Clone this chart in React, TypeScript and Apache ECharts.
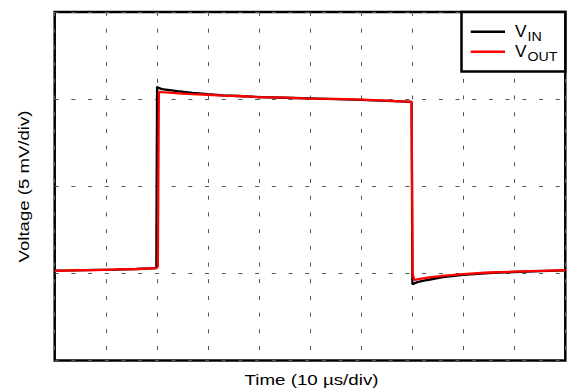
import React, { useEffect, useRef } from "react";
import * as echarts from "echarts";

// time in µs (10 µs/div), voltage in mV (5 mV/div)
const timeVin = [0, 4, 8, 12, 16, 19.9, 20.05, 20.2, 21, 24, 27, 30, 33, 36, 40, 45, 50, 55, 60, 65, 69.9, 70.05, 70.3, 71, 73, 76, 80, 85, 90, 95, 100];
const vin = [5.16, 5.17, 5.2, 5.22, 5.25, 5.3, 15.72, 15.66, 15.57, 15.46, 15.36, 15.28, 15.22, 15.18, 15.12, 15.08, 15.04, 15.0, 14.96, 14.9, 14.84, 4.38, 4.41, 4.5, 4.62, 4.78, 4.92, 5.02, 5.08, 5.13, 5.17];
const timeVout = [0, 4, 8, 12, 16, 19.9, 20.2, 20.4, 21, 22.5, 25, 27, 30, 33, 36, 40, 45, 50, 55, 60, 65, 69.9, 70.1, 70.4, 71, 73, 76, 80, 85, 90, 95, 100];
const vout = [5.14, 5.18, 5.19, 5.23, 5.25, 5.3, 5.4, 15.42, 15.4, 15.37, 15.32, 15.29, 15.25, 15.2, 15.18, 15.12, 15.09, 15.03, 15.01, 14.97, 14.91, 14.84, 5.0, 4.62, 4.66, 4.76, 4.86, 4.96, 5.05, 5.1, 5.14, 5.18];

const seriesNames = ["VIN", "VOUT"];
const legendMain = ["V", "V"];
const legendSub = ["IN", "OUT"];
const colors = ["#000000", "#ff0000"];
const xTitle = "Time (10 µs/div)";
const yTitle = "Voltage (5 mV/div)";

const FONT = "'Liberation Sans', Arial, Helvetica, sans-serif";

export default function App() {
  const ref = useRef<HTMLDivElement>(null);
  useEffect(() => {
    if (!ref.current) return;
    const chart = echarts.init(ref.current, undefined, { renderer: "svg" });
    const gridLine = { show: true, lineStyle: { color: "#555", width: 1, type: [4, 12.7] as any } };
    const legendItems: any[] = [
      {
        type: "rect",
        shape: { x: 461.5, y: 12, width: 103.8, height: 59.5 },
        style: { fill: "#fff", stroke: "#000", lineWidth: 2.5 },
        z: 10,
      },
    ];
    seriesNames.forEach((_, i) => {
      const ly = 31.7 + i * 20;
      legendItems.push({
        type: "line",
        shape: { x1: 470.7, y1: ly, x2: 505, y2: ly },
        style: { stroke: colors[i], lineWidth: 2.5 },
        z: 11,
      });
      legendItems.push({
        type: "text",
        x: 515,
        y: 32 + i * 20,
        scaleX: 1.08,
        style: { text: legendMain[i], font: `16px ${FONT}`, fill: "#000", align: "left", verticalAlign: "middle" },
        z: 11,
      });
      legendItems.push({
        type: "text",
        x: 527.5,
        y: 36.5 + i * 20,
        scaleX: 1.05,
        style: { text: legendSub[i], font: `13.5px ${FONT}`, fill: "#000", align: "left", verticalAlign: "middle" },
        z: 11,
      });
    });
    chart.setOption({
      animation: false,
      grid: {
        left: 54.7,
        top: 12,
        right: 10.7,
        bottom: 31.5,
        show: true,
        borderColor: "#000",
        borderWidth: 2.5,
        backgroundColor: "transparent",
      },
      xAxis: {
        type: "value",
        min: 0,
        max: 100,
        interval: 10,
        axisLine: { show: false },
        axisTick: { show: false },
        axisLabel: { show: false },
        splitLine: gridLine,
      },
      yAxis: {
        type: "value",
        min: 0,
        max: 20,
        interval: 5,
        axisLine: { show: false },
        axisTick: { show: false },
        axisLabel: { show: false },
        splitLine: gridLine,
      },
      series: [
        {
          name: seriesNames[0],
          type: "line",
          showSymbol: false,
          data: timeVin.map((t, i) => [t, vin[i]]),
          lineStyle: { color: colors[0], width: 2.3 },
          z: 3,
        },
        {
          name: seriesNames[1],
          type: "line",
          showSymbol: false,
          data: timeVout.map((t, i) => [t, vout[i]]),
          lineStyle: { color: colors[1], width: 2.3 },
          z: 4,
        },
      ],
      graphic: [
        {
          type: "text",
          x: 311.5,
          y: 380,
          scaleX: 1.25,
          style: { text: xTitle, font: `15px ${FONT}`, fill: "#000", align: "center", verticalAlign: "middle" },
        },
        {
          type: "text",
          x: 24.5,
          y: 186.5,
          rotation: Math.PI / 2,
          scaleX: 1.24,
          style: { text: yTitle, font: `15px ${FONT}`, fill: "#000", align: "center", verticalAlign: "middle" },
        },
        ...legendItems,
      ],
    });
    return () => chart.dispose();
  }, []);
  return <div ref={ref} style={{ width: 576, height: 392, position: "absolute", left: 0, top: 0 }} />;
}
